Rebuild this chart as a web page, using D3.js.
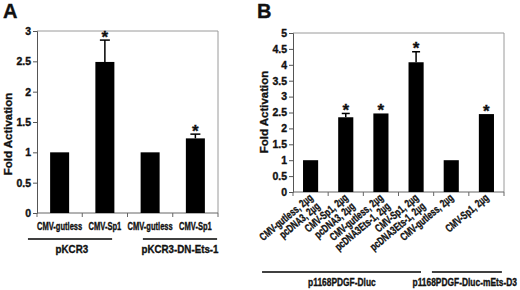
<!DOCTYPE html>
<html><head><meta charset="utf-8">
<script src="https://cdn.jsdelivr.net/npm/d3@7"></script>
<style>body{margin:0;background:#fff}svg{display:block}text{font-family:"Liberation Sans",Arial,sans-serif;font-weight:bold;fill:#111;stroke:#111;stroke-width:0.35px}</style>
</head><body>
<svg id="c" width="520" height="290"></svg>
<script>
// ---- Panel A data ----
const catsA = ["CMV-gutless", "CMV-Sp1", "CMV-gutless", "CMV-Sp1"];
const valsA = [1, 2.49, 1, 1.23];
const errA = [0, 0.36, 0, 0.07];
const starA = [false, true, false, true];
const groupsA = ["pKCR3", "pKCR3-DN-Ets-1"];
const ticksA = [0, 0.5, 1, 1.5, 2, 2.5, 3];
// ---- Panel B data ----
const catsB = [
  ["CMV-gutless, 2µg", "pcDNA3, 2µg"],
  ["CMV-Sp1, 2µg", "pcDNA3, 2µg"],
  ["CMV-gutless, 2µg", "pcDNA3Ets-1, 2µg"],
  ["CMV-Sp1, 2µg", "pcDNA3Ets-1, 2µg"],
  ["CMV-gutless, 2µg"],
  ["CMV-Sp1, 2µg"]
];
const valsB = [1, 2.35, 2.47, 4.08, 1, 2.45];
const errB = [0, 0.12, 0, 0.33, 0, 0];
const starB = [false, true, true, true, false, true];
const groupsB = ["p1168PDGF-Dluc", "p1168PDGF-Dluc-mEts-D3"];
const ticksB = [0, 0.5, 1, 1.5, 2, 2.5, 3, 3.5, 4, 4.5, 5];

const svg = d3.select("#c");
svg.append("rect").attr("width", 520).attr("height", 290).attr("fill", "#fff");

// narrow text via horizontal scale transform
function ntext(parent, x, y, str, size, sx, anchor, rot) {
  return parent.append("text")
    .attr("transform", `translate(${x},${y})` + (rot ? ` rotate(${rot})` : "") + ` scale(${sx},1)`)
    .attr("text-anchor", anchor).attr("font-size", size).text(str);
}

function panel(o) {
  const g = svg.append("g");
  const n = o.vals.length;
  const x = d3.scaleBand().domain(d3.range(n)).range([o.x0, o.x1])
    .paddingInner(o.pad).paddingOuter(o.pad / 2);
  const y = d3.scaleLinear().domain([0, o.ymax]).range([o.y0, o.y1]);
  const idx = i => o.x0 + (i + 0.5) * x.step();

  g.append("path").attr("d", `M${o.x0},${o.y1}H${o.x1}V${o.y0}`)
    .attr("fill", "none").attr("stroke", "#9a9a9a").attr("stroke-width", 1);

  const ya = g.append("g").attr("transform", `translate(${o.x0},0)`)
    .call(d3.axisLeft(y).tickValues(o.ticks).tickSize(4).tickPadding(2).tickFormat(d => String(d)));
  ya.select(".domain").attr("stroke", "#555");
  ya.selectAll(".tick line").attr("stroke", "#555");
  ya.selectAll(".tick text").attr("font-size", 10.5).attr("font-family", "Liberation Sans, Arial, sans-serif")
    .attr("font-weight", "bold").attr("fill", "#111");

  g.append("line").attr("x1", o.x0).attr("x2", o.x1).attr("y1", o.y0).attr("y2", o.y0)
    .attr("stroke", "#666");
  g.selectAll(".xt").data(d3.range(n + 1)).join("line")
    .attr("x1", i => o.x0 + i * x.step()).attr("x2", i => o.x0 + i * x.step())
    .attr("y1", o.y0).attr("y2", o.y0 + 4).attr("stroke", "#666");

  g.selectAll(".bar").data(o.vals).join("rect")
    .attr("x", (d, i) => x(i)).attr("width", x.bandwidth())
    .attr("y", d => y(d)).attr("height", d => o.y0 - y(d)).attr("fill", "#000");

  o.vals.forEach((v, i) => {
    if (!o.err[i]) return;
    const cx = x(i) + x.bandwidth() / 2;
    g.append("line").attr("x1", cx).attr("x2", cx).attr("y1", y(v)).attr("y2", y(v + o.err[i]))
      .attr("stroke", "#000").attr("stroke-width", 1.5);
    g.append("line").attr("x1", cx - o.cap / 2).attr("x2", cx + o.cap / 2)
      .attr("y1", y(v + o.err[i])).attr("y2", y(v + o.err[i]))
      .attr("stroke", "#000").attr("stroke-width", 1.5);
  });

  o.vals.forEach((v, i) => {
    if (!o.star[i]) return;
    const cx = x(i) + x.bandwidth() / 2;
    g.append("text").attr("x", cx).attr("y", y(v + o.err[i]) - 7.5 + 10)
      .attr("text-anchor", "middle").attr("font-size", 17).text("*");
  });

  g.append("text").attr("transform", `translate(${o.ylabX},${o.ylabY}) rotate(-90)`)
    .attr("text-anchor", "middle").attr("font-size", 11.5).text("Fold Activation");

  g.append("text").attr("x", o.letterX).attr("y", 18).attr("font-size", 20).text(o.letter);

  return { g, x, y, idx };
}

// ---------- Panel A ----------
const A = panel({ x0: 37, x1: 218, y0: 213, y1: 31, ymax: 3, pad: 0.58, vals: valsA, err: errA,
  star: starA, ticks: ticksA, cap: 10, ylabX: 12, ylabY: 134, letter: "A", letterX: 3 });
catsA.forEach((d, i) => ntext(A.g, A.idx(i), 230, d, 10.5, 0.72, "middle"));
const grpA = [{ a: -0.7, b: 1.16, c: 0.27 }, { a: 1.84, b: 3.48, c: 2.66 }];
grpA.forEach((p, k) => {
  A.g.append("line").attr("x1", A.idx(p.a)).attr("x2", A.idx(p.b)).attr("y1", 239).attr("y2", 239)
    .attr("stroke", "#000").attr("stroke-width", 1.3);
  ntext(A.g, A.idx(p.c), 253, groupsA[k], 11.5, 0.85, "middle");
});

// ---------- Panel B ----------
const B = panel({ x0: 293, x1: 504, y0: 192, y1: 33, ymax: 5, pad: 0.57, vals: valsB, err: errB,
  star: starB, ticks: ticksB, cap: 8, ylabX: 268, ylabY: 112, letter: "B", letterX: 257 });
catsB.forEach((lines, i) => {
  const lg = B.g.append("g").attr("transform", `translate(${B.idx(i) + 3},199) rotate(-40)`);
  lines.forEach((t, j) => ntext(lg, 0, j * 11, t, 11, 0.72, "end"));
});
const grpB = [{ a: -1.38, b: 3.14, c: 0.89 }, { a: 3.45, b: 5.44, c: 4.33 }];
grpB.forEach((p, k) => {
  B.g.append("line").attr("x1", B.idx(p.a)).attr("x2", B.idx(p.b)).attr("y1", 272).attr("y2", 272)
    .attr("stroke", "#000").attr("stroke-width", 1.3);
  if (k === 0) ntext(B.g, B.idx(p.c), 286, groupsB[k], 10.5, 0.8, "middle");
  else ntext(B.g, 517, 286, groupsB[k], 10.5, 0.8, "end");
});
</script>
</body></html>
